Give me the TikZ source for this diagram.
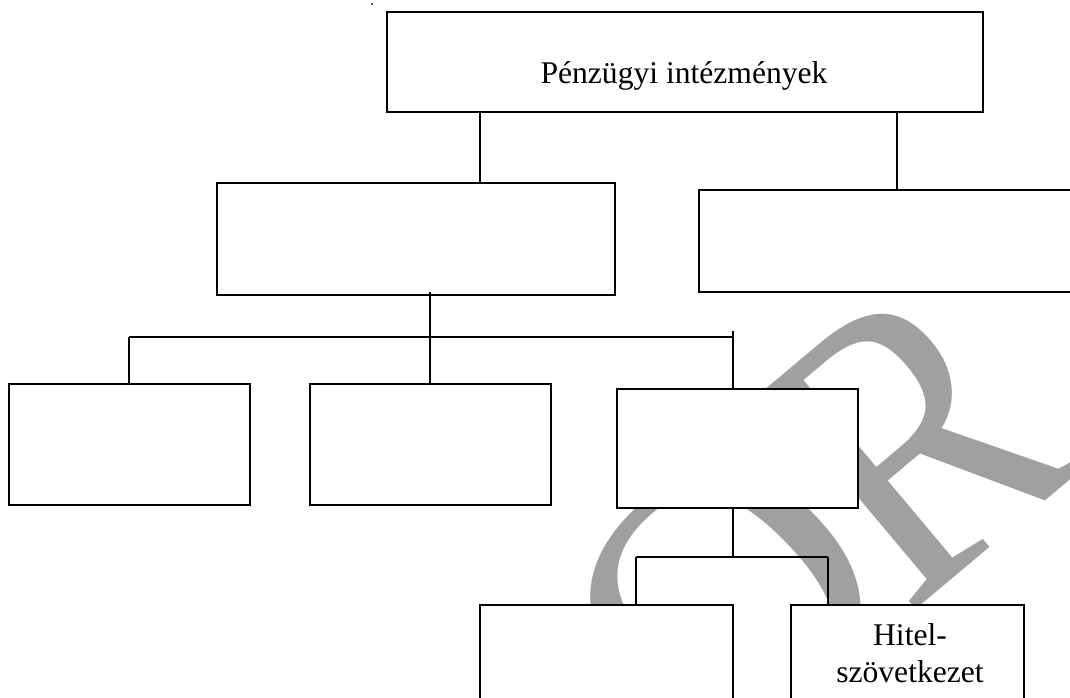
\documentclass[tikz,border=0pt]{standalone}
\usepackage{fontspec}
\setmainfont{Liberation Serif}
\definecolor{wmgray}{RGB}{160,160,160}
\begin{document}
\begin{tikzpicture}[x=1pt,y=-1pt,
  box/.style={draw, fill=white, line width=1.8pt, inner sep=0pt, outer sep=0pt},
  conn/.style={line width=1.6pt},
  lbl/.style={inner sep=0pt, font=\fontsize{31.6}{37}\selectfont},
  wm/.style={text=wmgray, inner sep=0pt, anchor=base west, font=\fontsize{390}{390}\selectfont}]
\useasboundingbox (0,0) rectangle (1070,697);
\clip (0,0) rectangle (1070,697);
% watermark
\node[wm, rotate=44] (wmO) at (713,793) {O};
\node[wm, rotate=40, xscale=0.88, font=\fontsize{405}{405}\selectfont] (wmR) at (906,618) {R};
% boxes
\node[box, minimum width=596pt, minimum height=100pt] (A) at (685,62) {};
\node[box, minimum width=398pt, minimum height=112pt] (B) at (416,239) {};
\node[box, minimum width=380pt, minimum height=102pt] (C) at (889,241) {};
\node[box, minimum width=241pt, minimum height=121pt] (D) at (129.5,444.5) {};
\node[box, minimum width=241pt, minimum height=121pt] (E) at (430.5,444.5) {};
\node[box, minimum width=241pt, minimum height=119pt] (F) at (737.5,448.5) {};
\node[box, minimum width=253pt, minimum height=120pt] (G) at (606.5,665) {};
\node[box, minimum width=233pt, minimum height=120pt] (H) at (907.5,665) {};
% texts
\node[lbl, anchor=base] (tA) at (684,83) {Pénzügyi intézmények};
\node[lbl, anchor=base] (tH1) at (910,645) {Hitel-};
\node[lbl, anchor=base] (tH2) at (910,682) {szövetkezet};
\fill (372,4) circle (1pt);
% connector coordinates
\coordinate (xB) at (480,0);
\coordinate (xC) at (897,0);
\coordinate (bar1) at (430,337);
\coordinate (bar1top) at (430,292);
\coordinate (bar1L) at (129,337);
\coordinate (bar1R) at (733,337);
\coordinate (bar1Rtop) at (733,331);
\coordinate (bar2) at (733,557);
\coordinate (bar2L) at (636,557);
\coordinate (bar2R) at (828,557);
% connectors
\draw[conn] (A.south -| xB) -- (B.north -| xB);
\draw[conn] (A.south -| xC) -- (C.north -| xC);
\draw[conn] (bar1top) -- (E.north -| bar1);
\draw[conn] (bar1L) -- (bar1R);
\draw[conn] (bar1L) -- (D.north -| bar1L);
\draw[conn] (bar1Rtop) -- (F.north -| bar1R);
\draw[conn] (F.south -| bar2) -- (bar2);
\draw[conn] (bar2L) -- (bar2R);
\draw[conn] (bar2L) -- (G.north -| bar2L);
\draw[conn] (bar2R) -- (H.north -| bar2R);
\end{tikzpicture}
\end{document}
